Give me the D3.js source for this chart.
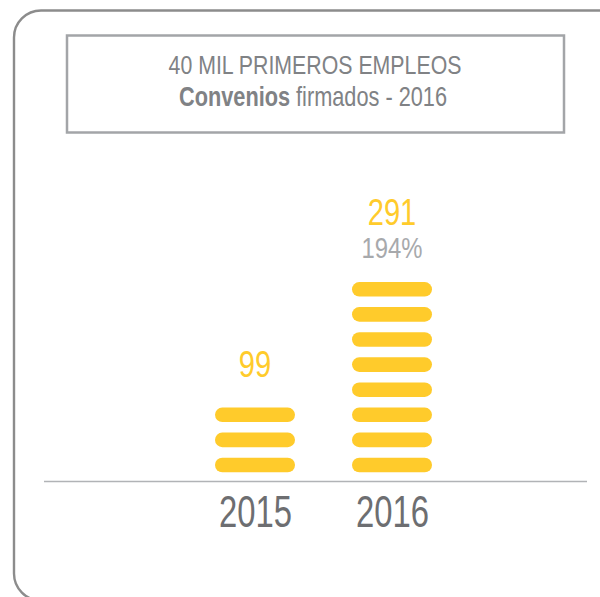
<!DOCTYPE html>
<html>
<head>
<meta charset="utf-8">
<script src="https://cdn.jsdelivr.net/npm/d3@7"></script>
<style>
  body { margin: 0; background: #fff; }
  text { font-family: "Liberation Sans", Arial, sans-serif; }
</style>
</head>
<body>
<script>
"use strict";

// data
const years = ["2015", "2016"];
const values = [99, 291];
const growthLabels = ["", "194%"];
const unitPerPill = 36; // each pill stands for ~36 convenios

//Dimensions
const w = 600;
const h = 597;
const baseY = 481.5;
const yellow = "#ffcb2b";

const svg = d3.select("body").append("svg").attr("width", w).attr("height", h);

// squeeze a text horizontally to a target width (condensed look)
function squeeze(sel, cx, cy, width) {
  const node = sel.node();
  const len = node.getComputedTextLength();
  sel.attr("x", 0).attr("y", 0)
    .attr("transform", `translate(${cx}, ${cy}) scale(${width / len}, 1)`);
}

// outer rounded frame (runs off the right and bottom edge)
svg.append("rect")
  .attr("x", 14).attr("y", 10.5)
  .attr("width", 612).attr("height", 590)
  .attr("rx", 27)
  .attr("fill", "none")
  .attr("stroke", "#8c8c8c")
  .attr("stroke-width", 2.4);

// title box
svg.append("rect")
  .attr("x", 67).attr("y", 35.5)
  .attr("width", 497).attr("height", 97)
  .attr("fill", "none")
  .attr("stroke", "#a3a5a8")
  .attr("stroke-width", 2.5);

const t1 = svg.append("text")
  .attr("text-anchor", "middle")
  .attr("font-size", 26)
  .attr("fill", "#808285")
  .text("40 MIL PRIMEROS EMPLEOS");
squeeze(t1, 315, 74.3, 293);

const t2 = svg.append("text")
  .attr("text-anchor", "middle")
  .attr("font-size", 27)
  .attr("fill", "#808285");
t2.append("tspan").attr("font-weight", "bold").text("Convenios");
t2.append("tspan").text(" firmados - 2016");
squeeze(t2, 313, 106, 268);

//scales
const xScale = d3.scalePoint().domain(years).range([255, 392]);
const yScale = d3.scaleLinear().domain([0, 8]).range([465, 264.2]); // pill centres

const pillW = 80;
const pillH = 14.6;

const bars = years.map((yr, i) => ({
  year: yr,
  value: values[i],
  growth: growthLabels[i],
  pills: d3.range(Math.round(values[i] / unitPerPill))
}));

const groups = svg.selectAll("g.bar")
  .data(bars)
  .enter()
  .append("g")
  .attr("class", "bar");

groups.selectAll("rect")
  .data((d) => d.pills.map((p) => ({ year: d.year, idx: p })))
  .enter()
  .append("rect")
  .attr("x", (d) => xScale(d.year) - pillW / 2)
  .attr("y", (d) => yScale(d.idx) - pillH / 2)
  .attr("width", pillW)
  .attr("height", pillH)
  .attr("rx", pillH / 2)
  .attr("fill", yellow);

// value + growth labels above the stacks
groups.append("text")
  .attr("text-anchor", "middle")
  .attr("font-size", 37)
  .attr("fill", yellow)
  .text((d) => d.value)
  .each(function (d) {
    squeeze(d3.select(this), xScale(d.year),
      yScale(d.pills.length - 1) - (d.growth ? 64.3 : 38.3),
      String(d.value).length * 16.2);
  });

groups.filter((d) => d.growth)
  .append("text")
  .attr("text-anchor", "middle")
  .attr("font-size", 29)
  .attr("fill", "#a7a9ac")
  .text((d) => d.growth)
  .each(function (d) {
    squeeze(d3.select(this), xScale(d.year), yScale(d.pills.length - 1) - 31.6, 61);
  });

// baseline
svg.append("line")
  .attr("x1", 44).attr("x2", 587)
  .attr("y1", baseY).attr("y2", baseY)
  .attr("stroke", "#b1b3b6")
  .attr("stroke-width", 1.6);

// x axis labels
const xAxis = d3.axisBottom(xScale).tickSize(0).tickPadding(0);
svg.append("g")
  .attr("transform", `translate(0, ${baseY})`)
  .call(xAxis)
  .call((g) => g.select(".domain").remove())
  .call((g) => g.selectAll(".tick text")
    .attr("dy", null)
    .attr("y", 45.2)
    .attr("font-family", null)
    .attr("font-size", 44)
    .attr("fill", "#6d6e71")
    .attr("textLength", 73)
    .attr("lengthAdjust", "spacingAndGlyphs"));
</script>
</body>
</html>
